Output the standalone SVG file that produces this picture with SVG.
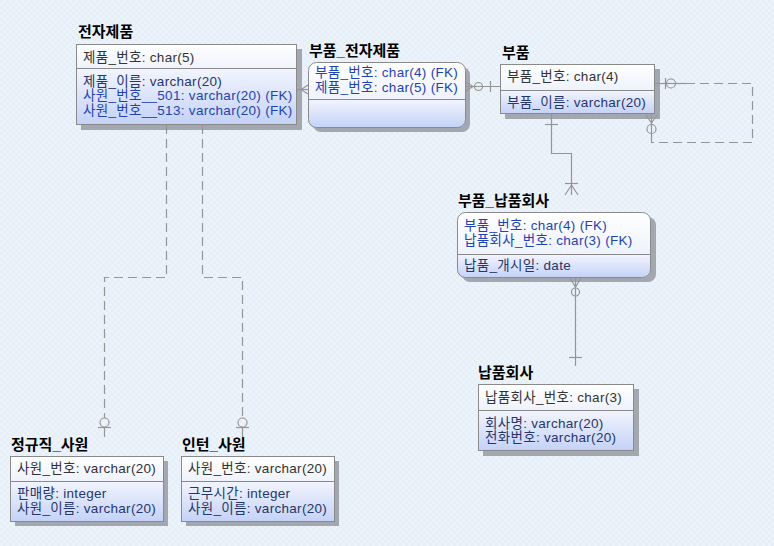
<svg xmlns="http://www.w3.org/2000/svg" width="774" height="546" viewBox="0 0 774 546">
<defs>
<linearGradient id="hdr" x1="0" y1="0" x2="0" y2="1"><stop offset="0" stop-color="#ffffff"/><stop offset="1" stop-color="#eef2fc"/></linearGradient>
<linearGradient id="body" x1="0" y1="0" x2="0" y2="1"><stop offset="0" stop-color="#f2f5fe"/><stop offset="1" stop-color="#c4d2f7"/></linearGradient>
<pattern id="bg" width="6" height="6" patternUnits="userSpaceOnUse"><rect width="6" height="6" fill="#edf3fa"/><rect x="0" y="0" width="3" height="3" fill="#e6eef8"/><rect x="3" y="3" width="3" height="3" fill="#e6eef8"/></pattern>
</defs>
<style>
.title{font-family:"Liberation Sans","Noto Sans CJK KR",sans-serif;font-size:15px;font-weight:bold;fill:#000}
.a{font-family:"Liberation Sans","Noto Sans CJK KR",sans-serif;font-size:13.5px;letter-spacing:0.3px}
.pk{fill:#333333}
.nk{fill:#26366a}
.fk{fill:#1f43b0}
.box{fill:none;stroke:#8a8a8a;stroke-width:1}
.shadow{fill:#a3a7b0}
.div{stroke:#8a8a8a;stroke-width:1}
.conn{fill:none;stroke:#959595;stroke-width:1.2}
.dash{stroke-dasharray:9 5}
</style>
<rect width="774" height="546" fill="url(#bg)"/>

<g id="electronics">
<text class="title" x="78" y="37">전자제품</text>
<rect class="shadow" x="81" y="49" width="221" height="81"/>
<rect x="76.5" y="44.5" width="220" height="24" fill="url(#hdr)"/>
<rect x="76.5" y="68.5" width="220" height="56" fill="url(#body)"/>
<rect class="box" x="76.5" y="44.5" width="220" height="80"/>
<line class="div" x1="76.5" y1="68.5" x2="296.5" y2="68.5"/>
<text class="a pk" x="83" y="62">제품_번호: char(5)</text>
<text class="a nk" x="83" y="86">제품_이름: varchar(20)</text>
<text class="a fk" x="83" y="100">사원_번호__501: varchar(20) (FK)</text>
<text class="a fk" x="83" y="115">사원_번호__513: varchar(20) (FK)</text>
</g>

<g id="part_electronics">
<text class="title" x="309" y="56">부품_전자제품</text>
<rect class="shadow" x="313" y="67" width="157" height="65" rx="8"/>
<path d="M308.5,99.5 V70.5 Q308.5,62.5 316.5,62.5 H457.5 Q465.5,62.5 465.5,70.5 V99.5 Z" fill="url(#hdr)"/>
<path d="M308.5,99.5 H465.5 V119.5 Q465.5,127.5 457.5,127.5 H316.5 Q308.5,127.5 308.5,119.5 Z" fill="url(#body)"/>
<rect class="box" x="308.5" y="62.5" width="157" height="65" rx="8"/>
<line class="div" x1="308.5" y1="99.5" x2="465.5" y2="99.5"/>
<text class="a fk" x="315" y="77">부품_번호: char(4) (FK)</text>
<text class="a fk" x="315" y="92">제품_번호: char(5) (FK)</text>
</g>

<g id="part">
<text class="title" x="502" y="58">부품</text>
<rect class="shadow" x="505" y="69" width="155" height="50"/>
<rect x="500.5" y="64.5" width="154" height="26" fill="url(#hdr)"/>
<rect x="500.5" y="90.5" width="154" height="23" fill="url(#body)"/>
<rect class="box" x="500.5" y="64.5" width="154" height="49"/>
<line class="div" x1="500.5" y1="90.5" x2="654.5" y2="90.5"/>
<text class="a pk" x="507" y="81">부품_번호: char(4)</text>
<text class="a nk" x="507" y="107">부품_이름: varchar(20)</text>
</g>

<g id="part_supplier">
<text class="title" x="458" y="206">부품_납품회사</text>
<rect class="shadow" x="462" y="217" width="194" height="65" rx="8"/>
<path d="M457.5,254.5 V220.5 Q457.5,212.5 465.5,212.5 H642.5 Q650.5,212.5 650.5,220.5 V254.5 Z" fill="url(#hdr)"/>
<path d="M457.5,254.5 H650.5 V269.5 Q650.5,277.5 642.5,277.5 H465.5 Q457.5,277.5 457.5,269.5 Z" fill="url(#body)"/>
<rect class="box" x="457.5" y="212.5" width="193" height="65" rx="8"/>
<line class="div" x1="457.5" y1="254.5" x2="650.5" y2="254.5"/>
<text class="a fk" x="464" y="230">부품_번호: char(4) (FK)</text>
<text class="a fk" x="464" y="245">납품회사_번호: char(3) (FK)</text>
<text class="a nk" x="464" y="270">납품_개시일: date</text>
</g>

<g id="supplier">
<text class="title" x="478" y="378">납품회사</text>
<rect class="shadow" x="483" y="389" width="156" height="67"/>
<rect x="478.5" y="384.5" width="155" height="26" fill="url(#hdr)"/>
<rect x="478.5" y="410.5" width="155" height="40" fill="url(#body)"/>
<rect class="box" x="478.5" y="384.5" width="155" height="66"/>
<line class="div" x1="478.5" y1="410.5" x2="633.5" y2="410.5"/>
<text class="a pk" x="485" y="402">납품회사_번호: char(3)</text>
<text class="a nk" x="485" y="428">회사명: varchar(20)</text>
<text class="a nk" x="485" y="442">전화번호: varchar(20)</text>
</g>

<g id="regular_employee">
<text class="title" x="11" y="450">정규직_사원</text>
<rect class="shadow" x="15" y="461" width="153" height="65"/>
<rect x="10.5" y="456.5" width="153" height="25" fill="url(#hdr)"/>
<rect x="10.5" y="481.5" width="153" height="40" fill="url(#body)"/>
<rect class="box" x="10.5" y="456.5" width="153" height="65"/>
<line class="div" x1="10.5" y1="481.5" x2="163.5" y2="481.5"/>
<text class="a pk" x="17" y="473">사원_번호: varchar(20)</text>
<text class="a nk" x="17" y="498">판매량: integer</text>
<text class="a nk" x="17" y="513">사원_이름: varchar(20)</text>
</g>

<g id="intern_employee">
<text class="title" x="182" y="450">인턴_사원</text>
<rect class="shadow" x="186" y="461" width="153" height="65"/>
<rect x="181.5" y="456.5" width="153" height="25" fill="url(#hdr)"/>
<rect x="181.5" y="481.5" width="153" height="40" fill="url(#body)"/>
<rect class="box" x="181.5" y="456.5" width="153" height="65"/>
<line class="div" x1="181.5" y1="481.5" x2="334.5" y2="481.5"/>
<text class="a pk" x="188" y="473">사원_번호: varchar(20)</text>
<text class="a nk" x="188" y="498">근무시간: integer</text>
<text class="a nk" x="188" y="513">사원_이름: varchar(20)</text>
</g>

<g id="connectors">
<path class="conn" d="M297,89.5 H308"/>
<path class="conn" d="M308,85 L301,89.5 L308,94"/>
<path class="conn" d="M466,86.5 H500"/>
<path class="conn" d="M466,82 L473,86.5 L466,91"/>
<circle class="conn" cx="478.5" cy="86.5" r="4"/>
<path class="conn" d="M490.5,81 V92"/>
<path class="conn" d="M655,83.5 H686"/>
<path class="conn dash" d="M686,83.5 H752.5 V142.5 H651.5 V136"/>
<path class="conn" d="M651.5,136 V114"/>
<path class="conn" d="M665.5,78 V89"/>
<circle class="conn" cx="671" cy="83.5" r="4.5"/>
<path class="conn" d="M646,115 L651.5,123 L657,115"/>
<circle class="conn" cx="651.5" cy="129" r="4.5"/>
<path class="conn" d="M551.5,114 V153.5 H571.5 V195"/>
<path class="conn" d="M545,124.5 H558"/>
<path class="conn" d="M565,183.5 H578"/>
<path class="conn" d="M565,195 L571.5,185 L578,195"/>
<path class="conn" d="M575.5,278 V366"/>
<path class="conn" d="M570,278 L575.5,287 L581,278"/>
<circle class="conn" cx="575.5" cy="292" r="4"/>
<path class="conn" d="M569,357.5 H582"/>
<path class="conn dash" d="M166.5,125 V277.5 H104.5 V418"/>
<circle class="conn" cx="104.5" cy="422.5" r="4.5"/>
<path class="conn" d="M104.5,427 V437"/>
<path class="conn" d="M98,427.5 H111"/>
<path class="conn dash" d="M202.5,125 V277.5 H242.5 V418"/>
<circle class="conn" cx="242.5" cy="422.5" r="4.5"/>
<path class="conn" d="M242.5,427 V437"/>
<path class="conn" d="M236,427.5 H249"/>
</g>
</svg>
